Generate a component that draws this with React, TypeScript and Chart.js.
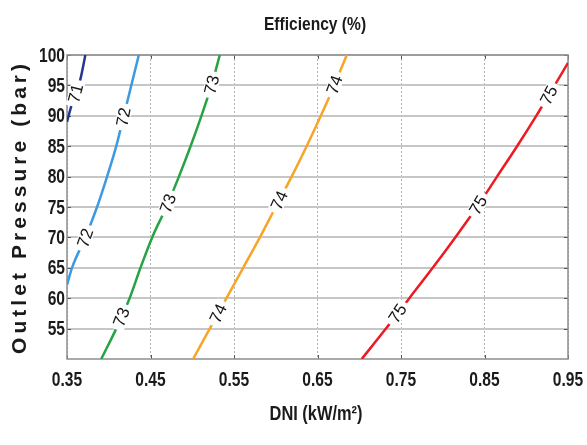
import React, { useEffect, useRef } from "react";
import { Chart, registerables } from "chart.js";

Chart.register(...registerables);

// Contour lines: outlet pressure (bar) vs DNI (kW/m2) for each efficiency level
const line71Pressure = [89, 92, 96, 100];
const line71Dni = [0.35, 0.356, 0.366, 0.372];

const line72Pressure = [62.2, 65, 70, 75, 80, 85, 90, 95, 100];
const line72Dni = [0.35, 0.356, 0.372, 0.386, 0.398, 0.409, 0.418, 0.427, 0.436];

const line73Pressure = [50, 55, 60, 65, 70, 75, 80, 85, 90, 95, 100];
const line73Dni = [0.391, 0.409, 0.425, 0.438, 0.452, 0.469, 0.484, 0.498, 0.511, 0.523, 0.533];

const line74Pressure = [50, 55, 60, 65, 70, 75, 80, 85, 90, 95, 100];
const line74Dni = [0.501, 0.521, 0.541, 0.561, 0.581, 0.6, 0.619, 0.637, 0.654, 0.67, 0.685];

const line75Pressure = [50, 55, 60, 65, 70, 75, 80, 85, 90, 95, 98.7];
const line75Dni = [0.703, 0.732, 0.76, 0.788, 0.815, 0.841, 0.865, 0.889, 0.912, 0.934, 0.95];

const levelNames = ["71", "72", "73", "74", "75"];
const levelColors = ["#26358f", "#3d9ae0", "#27a345", "#f7a427", "#ec1b22"];

// Inline contour labels: which level and at what pressure
const labelLevelIndex = [0, 1, 1, 2, 2, 2, 3, 3, 3, 4, 4, 4];
const labelPressure = [93.7, 89.8, 69.9, 95.1, 75.6, 56.9, 95.1, 76.1, 57.5, 93.4, 75.3, 57.5];

const xTickValues = [0.35, 0.45, 0.55, 0.65, 0.75, 0.85, 0.95];
const yTickValues = [55, 60, 65, 70, 75, 80, 85, 90, 95, 100];

const chartTitle = "Efficiency (%)";
const xTitle = "DNI (kW/m\u00B2)";
const yTitle = "Outlet Pressure (bar)";

const SANS = '"Liberation Sans", Arial, sans-serif';

const lines = [
  { p: line71Pressure, d: line71Dni },
  { p: line72Pressure, d: line72Dni },
  { p: line73Pressure, d: line73Dni },
  { p: line74Pressure, d: line74Dni },
  { p: line75Pressure, d: line75Dni },
];

function interpDni(line: { p: number[]; d: number[] }, pr: number) {
  const { p, d } = line;
  for (let i = 0; i < p.length - 1; i++) {
    if (pr >= p[i] && pr <= p[i + 1]) {
      const t = (pr - p[i]) / (p[i + 1] - p[i]);
      return d[i] + t * (d[i + 1] - d[i]);
    }
  }
  return pr < p[0] ? d[0] : d[d.length - 1];
}

function narrowText(ctx: any, text: string, x: number, y: number, align: string, font: string, sx: number) {
  ctx.save();
  ctx.font = font;
  ctx.translate(x, y);
  ctx.scale(sx, 1);
  ctx.textAlign = align;
  ctx.textBaseline = "middle";
  ctx.fillText(text, 0, 0);
  ctx.restore();
}

const decorPlugin = {
  id: "decor",
  beforeDatasetsDraw(chart: any) {
    const { ctx, chartArea: a, scales } = chart;
    ctx.save();
    ctx.strokeStyle = "#555";
    ctx.lineWidth = 1;
    const yS = scales.y;
    const xS = scales.x;
    ctx.beginPath();
    yTickValues.forEach((v) => {
      const y = Math.round(yS.getPixelForValue(v)) + 0.5;
      ctx.moveTo(a.left, y);
      ctx.lineTo(a.left + 4, y);
      ctx.moveTo(a.right, y);
      ctx.lineTo(a.right - 4, y);
    });
    xTickValues.forEach((v) => {
      const x = Math.round(xS.getPixelForValue(v)) + 0.5;
      ctx.moveTo(x, a.bottom);
      ctx.lineTo(x, a.bottom - 4);
      ctx.moveTo(x, a.top);
      ctx.lineTo(x, a.top + 4);
    });
    ctx.stroke();
    ctx.strokeStyle = "#8e8e8e";
    ctx.lineWidth = 1.5;
    ctx.strokeRect(a.left, a.top, a.right - a.left, a.bottom - a.top);
    ctx.restore();
  },
  afterDatasetsDraw(chart: any) {
    const { ctx, scales } = chart;
    const xS = scales.x;
    const yS = scales.y;
    ctx.save();
    ctx.font = "17px " + SANS;
    ctx.textAlign = "center";
    ctx.textBaseline = "middle";
    labelLevelIndex.forEach((li, k) => {
      const line = lines[li];
      const pr = labelPressure[k];
      const dn = interpDni(line, pr);
      const px = xS.getPixelForValue(dn);
      const py = yS.getPixelForValue(pr);
      const p1 = pr - 2.5;
      const p2 = pr + 2.5;
      const x1 = xS.getPixelForValue(interpDni(line, p1));
      const y1 = yS.getPixelForValue(p1);
      const x2 = xS.getPixelForValue(interpDni(line, p2));
      const y2 = yS.getPixelForValue(p2);
      const ang = Math.atan2(y2 - y1, x2 - x1) - 0.06;
      const text = levelNames[li];
      const w = ctx.measureText(text).width + 8;
      const h = 14;
      ctx.save();
      ctx.translate(px, py);
      ctx.rotate(ang);
      ctx.fillStyle = "#ffffff";
      ctx.fillRect(-w / 2, -h / 2, w, h);
      ctx.fillStyle = "#151515";
      ctx.fillText(text, 0, 1);
      ctx.restore();
    });
    ctx.restore();
  },
  afterDraw(chart: any) {
    const { ctx, chartArea: a, scales } = chart;
    const xS = scales.x;
    const yS = scales.y;
    ctx.save();
    ctx.fillStyle = "#1a1a1a";
    const tickFont = "bold 20px " + SANS;
    xTickValues.forEach((v) => {
      narrowText(ctx, v.toFixed(2), xS.getPixelForValue(v), a.bottom + 21, "center", tickFont, 0.78);
    });
    yTickValues.forEach((v) => {
      narrowText(ctx, String(v), a.left - 2, yS.getPixelForValue(v) + 1, "right", tickFont, 0.78);
    });
    narrowText(ctx, chartTitle, 315, 25, "center", "bold 19px " + SANS, 0.82);
    narrowText(ctx, xTitle, 316, 414, "center", "bold 20px " + SANS, 0.82);

    // y title, letter-spaced
    ctx.font = "bold 21px " + SANS;
    ctx.textBaseline = "middle";
    const target = 290;
    const n = yTitle.length;
    const plain = ctx.measureText(yTitle).width;
    const sp = Math.max(0, (target - plain) / (n - 1));
    (ctx as any).letterSpacing = sp.toFixed(2) + "px";
    ctx.translate(20, (a.top + a.bottom) / 2 + 2);
    ctx.rotate(-Math.PI / 2);
    ctx.textAlign = "left";
    ctx.fillText(yTitle, -target / 2, 0);
    ctx.restore();
  },
};

export default function App() {
  const ref = useRef<HTMLCanvasElement | null>(null);
  useEffect(() => {
    if (!ref.current) return;
    const datasets = lines.map((ln, i) => ({
      label: levelNames[i],
      data: ln.p.map((pv, j) => ({ x: ln.d[j], y: pv })),
      borderColor: levelColors[i],
      backgroundColor: levelColors[i],
      borderWidth: 2.5,
      pointRadius: 0,
      showLine: true,
      cubicInterpolationMode: "monotone",
      fill: false,
    }));
    const chart = new Chart(ref.current, {
      type: "scatter",
      data: { datasets },
      options: {
        animation: false,
        responsive: false,
        maintainAspectRatio: false,
        layout: { padding: { top: 55, right: 19, left: 0, bottom: 0 } },
        plugins: {
          legend: { display: false },
          tooltip: { enabled: false },
          title: { display: false },
        },
        scales: {
          x: {
            type: "linear",
            min: 0.35,
            max: 0.95,
            afterBuildTicks: (s: any) => {
              s.ticks = xTickValues.map((v) => ({ value: v }));
            },
            afterFit: (s: any) => {
              s.height = 86;
            },
            ticks: { display: false },
            grid: { color: "#b0b0b0", lineWidth: 1, drawTicks: false },
            border: { display: false, dash: [2, 2] },
          },
          y: {
            type: "linear",
            min: 50,
            max: 100,
            afterBuildTicks: (s: any) => {
              s.ticks = yTickValues.map((v) => ({ value: v }));
            },
            afterFit: (s: any) => {
              s.width = 67;
            },
            ticks: { display: false },
            grid: { color: "#c6c6c6", lineWidth: 2, drawTicks: false },
            border: { display: false },
          },
        },
      },
      plugins: [decorPlugin],
    } as any);
    return () => chart.destroy();
  }, []);
  return (
    <div style={{ position: "fixed", left: 0, top: 0, width: 587, height: 445, background: "#fff" }}>
      <canvas ref={ref} width={587} height={445} style={{ width: 587, height: 445, display: "block" }} />
    </div>
  );
}
